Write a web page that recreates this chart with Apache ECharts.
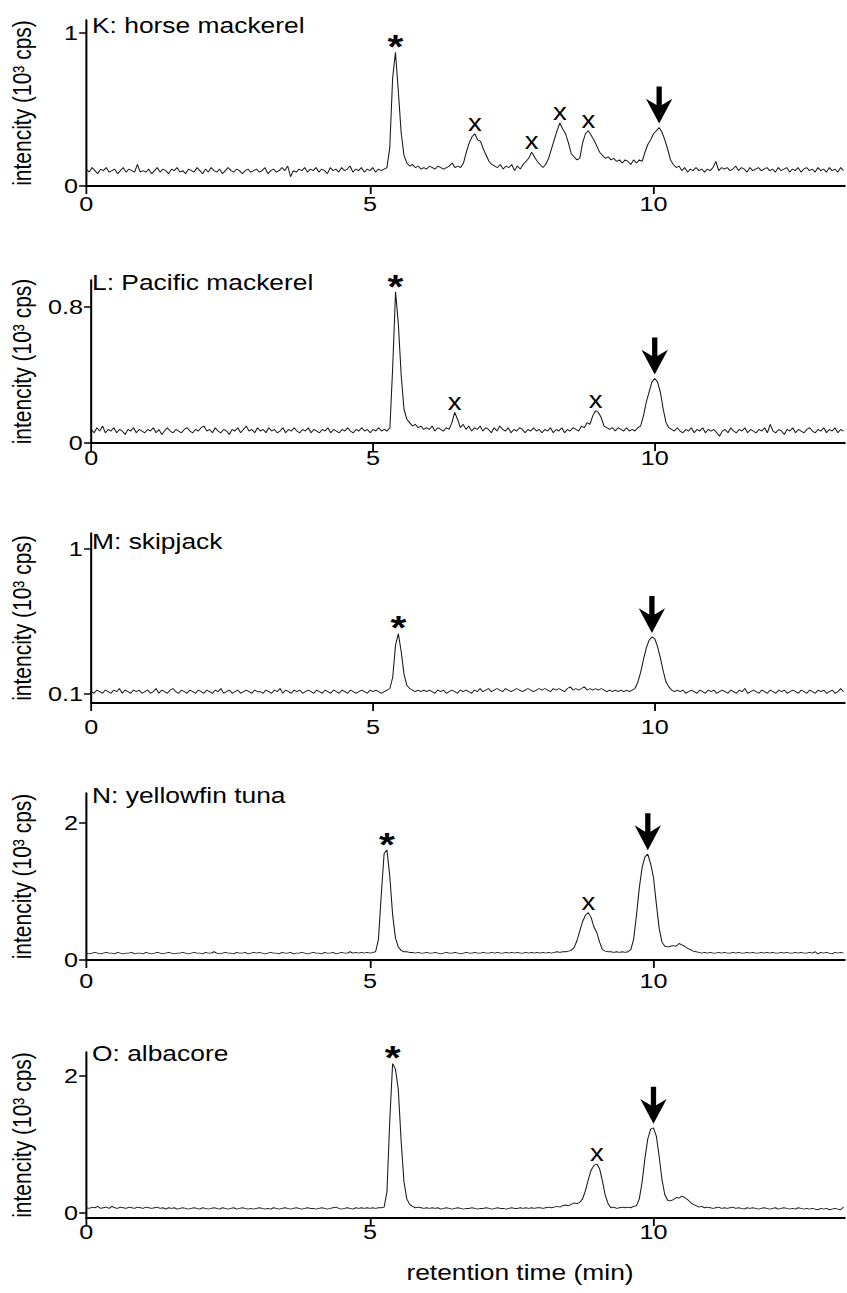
<!DOCTYPE html>
<html>
<head>
<meta charset="utf-8">
<script src="https://cdn.jsdelivr.net/npm/echarts@6/dist/echarts.min.js"></script>
<style>
html,body{margin:0;padding:0;background:#fff;width:847px;height:1293px;overflow:hidden}
#chart{width:706px;height:1293px;transform:scaleX(1.19972);transform-origin:0 0}
</style>
</head>
<body>
<div id="chart"></div>
<script>
// ---------------- DATA ----------------
const TIME_STEP = 0.05;           // min between samples (samples start at 0 min)
const xTicks = [0, 5, 10];
const xAxisName = 'retention time (min)';
const yAxisName = 'intencity (10³ cps)';

const titleK = 'K: horse mackerel';
const titleL = 'L: Pacific mackerel';
const titleM = 'M: skipjack';
const titleN = 'N: yellowfin tuna';
const titleO = 'O: albacore';

const yTicksK = [0, 1];
const yTicksL = [0, 0.8];
const yTicksM = [0.1, 1];
const yTicksN = [0, 2];
const yTicksO = [0, 2];

// intensity (10^3 cps), one row per minute (20 samples)
const valuesK = [
0.11,0.09,0.12,0.10,0.08,0.11,0.10,0.12,0.09,0.10,0.11,0.08,0.10,0.12,0.09,0.11,0.10,0.09,0.14,0.09,
0.10,0.09,0.11,0.08,0.10,0.12,0.09,0.11,0.10,0.08,0.11,0.10,0.12,0.09,0.10,0.08,0.11,0.10,0.09,0.12,
0.10,0.08,0.11,0.09,0.12,0.10,0.09,0.11,0.08,0.10,0.12,0.10,0.09,0.11,0.10,0.08,0.10,0.11,0.09,0.10,
0.11,0.09,0.10,0.12,0.08,0.10,0.11,0.09,0.10,0.12,0.10,0.13,0.06,0.10,0.09,0.11,0.10,0.12,0.09,0.11,
0.10,0.12,0.09,0.11,0.10,0.08,0.12,0.10,0.11,0.09,0.12,0.10,0.11,0.13,0.09,0.11,0.10,0.12,0.09,0.11,
0.10,0.12,0.09,0.11,0.10,0.11,0.12,0.25,0.70,0.87,0.62,0.35,0.20,0.15,0.13,0.14,0.12,0.13,0.11,0.12,
0.11,0.13,0.12,0.11,0.13,0.12,0.11,0.12,0.13,0.15,0.12,0.13,0.12,0.15,0.22,0.28,0.32,0.34,0.30,0.29,
0.24,0.20,0.16,0.14,0.13,0.12,0.14,0.11,0.13,0.12,0.14,0.10,0.13,0.11,0.14,0.16,0.18,0.22,0.19,0.16,
0.14,0.12,0.14,0.18,0.24,0.30,0.36,0.41,0.37,0.34,0.28,0.21,0.19,0.17,0.18,0.28,0.34,0.36,0.33,0.30,
0.26,0.22,0.20,0.18,0.19,0.17,0.18,0.16,0.17,0.15,0.17,0.16,0.14,0.17,0.15,0.17,0.16,0.22,0.27,0.30,
0.34,0.36,0.38,0.35,0.30,0.24,0.17,0.14,0.12,0.13,0.10,0.12,0.09,0.11,0.10,0.12,0.10,0.11,0.09,0.11,
0.10,0.12,0.16,0.10,0.12,0.11,0.12,0.10,0.11,0.13,0.10,0.12,0.11,0.09,0.12,0.10,0.11,0.12,0.10,0.11,
0.12,0.10,0.11,0.09,0.12,0.10,0.11,0.12,0.09,0.11,0.10,0.12,0.09,0.11,0.12,0.10,0.11,0.09,0.12,0.10,
0.11,0.09,0.12,0.10,0.11,0.09,0.12,0.10
];
const valuesL = [
0.08,0.06,0.09,0.07,0.10,0.06,0.08,0.07,0.09,0.06,0.08,0.07,0.05,0.08,0.07,0.09,0.06,0.08,0.07,0.06,
0.08,0.07,0.09,0.06,0.08,0.05,0.07,0.09,0.07,0.06,0.08,0.07,0.06,0.08,0.09,0.07,0.06,0.08,0.07,0.09,
0.10,0.07,0.08,0.06,0.09,0.07,0.06,0.08,0.07,0.05,0.08,0.07,0.09,0.06,0.08,0.10,0.07,0.08,0.06,0.09,
0.07,0.08,0.06,0.09,0.07,0.08,0.06,0.07,0.09,0.06,0.08,0.07,0.09,0.07,0.06,0.08,0.07,0.09,0.06,0.08,
0.07,0.06,0.08,0.07,0.09,0.06,0.08,0.07,0.06,0.08,0.07,0.09,0.07,0.06,0.08,0.07,0.09,0.07,0.08,0.06,
0.08,0.07,0.09,0.07,0.08,0.07,0.09,0.45,0.89,0.70,0.40,0.20,0.14,0.12,0.10,0.11,0.09,0.10,0.08,0.09,
0.08,0.10,0.07,0.09,0.08,0.07,0.09,0.08,0.12,0.18,0.14,0.09,0.11,0.08,0.10,0.07,0.09,0.08,0.10,0.07,
0.09,0.08,0.06,0.09,0.07,0.10,0.08,0.07,0.09,0.06,0.08,0.07,0.09,0.08,0.06,0.08,0.07,0.09,0.07,0.08,
0.06,0.08,0.07,0.09,0.06,0.08,0.07,0.09,0.06,0.08,0.07,0.09,0.08,0.07,0.10,0.09,0.12,0.11,0.16,0.19,
0.18,0.15,0.10,0.09,0.08,0.09,0.07,0.09,0.08,0.07,0.09,0.07,0.08,0.07,0.09,0.10,0.16,0.24,0.30,0.36,
0.38,0.36,0.30,0.20,0.12,0.09,0.08,0.07,0.09,0.07,0.06,0.08,0.07,0.09,0.06,0.08,0.07,0.09,0.06,0.08,
0.07,0.08,0.06,0.04,0.07,0.08,0.06,0.09,0.07,0.06,0.08,0.07,0.09,0.06,0.08,0.07,0.06,0.08,0.07,0.09,
0.06,0.11,0.07,0.06,0.08,0.07,0.05,0.08,0.07,0.09,0.06,0.08,0.07,0.06,0.08,0.09,0.07,0.06,0.08,0.07,
0.09,0.06,0.08,0.07,0.09,0.06,0.08,0.07
];
const valuesM = [
0.11,0.10,0.12,0.11,0.10,0.12,0.11,0.10,0.12,0.11,0.13,0.10,0.12,0.11,0.10,0.12,0.11,0.12,0.10,0.11,
0.12,0.10,0.11,0.13,0.10,0.12,0.11,0.10,0.12,0.13,0.11,0.10,0.12,0.11,0.10,0.12,0.11,0.10,0.12,0.11,
0.10,0.12,0.11,0.10,0.12,0.11,0.13,0.10,0.11,0.12,0.10,0.11,0.12,0.10,0.11,0.12,0.11,0.10,0.12,0.11,
0.11,0.10,0.12,0.11,0.10,0.12,0.11,0.13,0.10,0.12,0.11,0.10,0.12,0.11,0.12,0.10,0.11,0.12,0.11,0.10,
0.12,0.11,0.10,0.12,0.11,0.10,0.12,0.11,0.10,0.12,0.11,0.10,0.12,0.11,0.10,0.11,0.12,0.11,0.10,0.12,
0.11,0.12,0.11,0.10,0.11,0.12,0.13,0.20,0.40,0.47,0.36,0.22,0.15,0.13,0.12,0.11,0.12,0.11,0.12,0.11,
0.12,0.11,0.10,0.12,0.11,0.12,0.10,0.11,0.12,0.11,0.10,0.12,0.11,0.12,0.11,0.10,0.12,0.11,0.13,0.11,
0.12,0.13,0.11,0.12,0.13,0.12,0.11,0.13,0.12,0.11,0.12,0.13,0.12,0.11,0.12,0.13,0.12,0.11,0.12,0.13,
0.12,0.13,0.12,0.11,0.13,0.12,0.13,0.12,0.11,0.13,0.14,0.12,0.13,0.12,0.13,0.14,0.12,0.13,0.12,0.13,
0.12,0.13,0.12,0.11,0.12,0.11,0.12,0.11,0.12,0.11,0.12,0.11,0.12,0.13,0.17,0.23,0.31,0.38,0.43,0.45,
0.44,0.39,0.32,0.24,0.17,0.14,0.12,0.11,0.12,0.11,0.12,0.10,0.11,0.12,0.11,0.10,0.12,0.11,0.10,0.12,
0.11,0.12,0.10,0.11,0.12,0.11,0.10,0.12,0.11,0.10,0.12,0.11,0.13,0.10,0.11,0.12,0.11,0.10,0.12,0.11,
0.10,0.12,0.11,0.10,0.12,0.11,0.12,0.10,0.11,0.12,0.11,0.10,0.12,0.11,0.10,0.12,0.11,0.10,0.12,0.11,
0.12,0.10,0.11,0.12,0.10,0.11,0.13,0.11
];
const valuesN = [
0.10,0.09,0.10,0.11,0.10,0.09,0.10,0.11,0.10,0.10,0.09,0.11,0.10,0.09,0.10,0.10,0.11,0.09,0.10,0.10,
0.09,0.11,0.10,0.09,0.10,0.11,0.10,0.09,0.10,0.11,0.10,0.09,0.10,0.10,0.11,0.10,0.09,0.10,0.11,0.10,
0.10,0.09,0.11,0.10,0.10,0.12,0.10,0.09,0.10,0.11,0.10,0.10,0.09,0.11,0.10,0.10,0.11,0.09,0.10,0.11,
0.10,0.11,0.10,0.09,0.10,0.11,0.10,0.10,0.09,0.11,0.10,0.10,0.11,0.09,0.10,0.10,0.11,0.10,0.09,0.10,
0.11,0.10,0.10,0.09,0.11,0.10,0.10,0.11,0.09,0.10,0.11,0.10,0.10,0.12,0.10,0.11,0.10,0.11,0.10,0.11,
0.10,0.11,0.12,0.30,0.95,1.55,1.60,1.22,0.66,0.32,0.19,0.14,0.12,0.12,0.11,0.11,0.10,0.11,0.10,0.10,
0.11,0.10,0.10,0.11,0.10,0.09,0.10,0.11,0.10,0.10,0.11,0.10,0.09,0.10,0.11,0.10,0.10,0.11,0.10,0.10,
0.11,0.10,0.10,0.11,0.10,0.11,0.10,0.10,0.11,0.10,0.11,0.10,0.11,0.10,0.10,0.11,0.10,0.11,0.10,0.11,
0.10,0.11,0.10,0.11,0.10,0.11,0.12,0.11,0.12,0.12,0.13,0.14,0.18,0.28,0.42,0.56,0.65,0.69,0.62,0.48,
0.40,0.26,0.15,0.13,0.12,0.12,0.11,0.12,0.11,0.12,0.11,0.12,0.15,0.30,0.65,1.05,1.35,1.50,1.54,1.40,
1.20,0.82,0.46,0.26,0.20,0.19,0.20,0.21,0.20,0.24,0.22,0.20,0.17,0.15,0.13,0.12,0.11,0.10,0.11,0.10,
0.11,0.10,0.10,0.11,0.10,0.11,0.10,0.10,0.11,0.10,0.11,0.10,0.10,0.11,0.10,0.11,0.10,0.10,0.11,0.10,
0.11,0.10,0.11,0.10,0.10,0.11,0.10,0.11,0.10,0.10,0.11,0.10,0.11,0.10,0.10,0.11,0.10,0.12,0.09,0.11,
0.10,0.11,0.10,0.09,0.11,0.10,0.11,0.10
];
const valuesO = [
0.07,0.06,0.08,0.07,0.09,0.06,0.07,0.08,0.06,0.09,0.07,0.06,0.08,0.07,0.06,0.08,0.07,0.06,0.08,0.07,
0.06,0.08,0.07,0.06,0.07,0.08,0.06,0.07,0.05,0.07,0.06,0.07,0.05,0.06,0.07,0.06,0.05,0.06,0.07,0.06,
0.05,0.07,0.06,0.05,0.06,0.07,0.06,0.05,0.07,0.06,0.05,0.06,0.07,0.05,0.06,0.07,0.06,0.05,0.06,0.05,
0.06,0.07,0.06,0.05,0.06,0.05,0.07,0.06,0.05,0.06,0.07,0.06,0.05,0.06,0.07,0.06,0.05,0.06,0.07,0.06,
0.06,0.05,0.06,0.07,0.06,0.05,0.06,0.07,0.08,0.06,0.05,0.06,0.07,0.06,0.05,0.07,0.06,0.07,0.06,0.07,
0.06,0.07,0.06,0.07,0.07,0.08,0.30,1.35,2.18,2.10,1.80,1.05,0.45,0.20,0.12,0.09,0.07,0.08,0.07,0.06,
0.07,0.06,0.07,0.06,0.07,0.05,0.06,0.07,0.06,0.05,0.06,0.07,0.06,0.05,0.06,0.06,0.07,0.06,0.05,0.06,
0.06,0.07,0.06,0.05,0.06,0.07,0.06,0.06,0.05,0.06,0.07,0.06,0.06,0.07,0.06,0.07,0.06,0.07,0.06,0.07,
0.07,0.06,0.07,0.08,0.07,0.08,0.09,0.08,0.10,0.11,0.10,0.12,0.14,0.13,0.15,0.20,0.32,0.48,0.62,0.69,
0.71,0.64,0.46,0.25,0.13,0.07,0.08,0.06,0.07,0.08,0.07,0.08,0.07,0.09,0.10,0.20,0.45,0.80,1.08,1.22,
1.24,1.12,0.82,0.48,0.26,0.18,0.17,0.19,0.22,0.21,0.24,0.22,0.19,0.15,0.12,0.10,0.08,0.09,0.07,0.08,
0.07,0.06,0.07,0.08,0.06,0.07,0.06,0.07,0.08,0.06,0.07,0.06,0.05,0.07,0.06,0.07,0.06,0.05,0.06,0.07,
0.06,0.05,0.06,0.07,0.05,0.06,0.07,0.06,0.05,0.06,0.05,0.07,0.06,0.05,0.06,0.05,0.06,0.05,0.04,0.06,
0.05,0.06,0.04,0.05,0.06,0.05,0.04,0.08
];

// peak annotations (retention time, min)
const starTimesK = [5.45], crossTimesK = [6.85, 7.85, 8.35, 8.85], arrowTimesK = [10.10];
const starTimesL = [5.40], crossTimesL = [6.45, 8.95], arrowTimesL = [10.00];
const starTimesM = [5.45], crossTimesM = [], arrowTimesM = [9.95];
const starTimesN = [5.30], crossTimesN = [8.85], arrowTimesN = [9.90];
const starTimesO = [5.40], crossTimesO = [9.00], arrowTimesO = [10.00];

// ---------------- LAYOUT ----------------
const FONT = 'Arial, "Liberation Sans", Helvetica, sans-serif';
const SX = 847 / 706;
const GRID_LEFT = 70, GRID_WIDTH = 634, X_MAX = 13.37;
const layout = [
  {top: 20,   height: 166, yMin: 0,     yMax: 1.08,  xLabelMargin: 7,  titleY: 25.5},
  {top: 280,  height: 163, yMin: 0,     yMax: 0.96,  xLabelMargin: 4,  titleY: 282},
  {top: 533,  height: 170, yMin: 0.04,  yMax: 1.095, xLabelMargin: 13, titleY: 541.5},
  {top: 793,  height: 167, yMin: 0,     yMax: 2.43,  xLabelMargin: 10, titleY: 795},
  {top: 1052, height: 166, yMin: -0.08, yMax: 2.35,  xLabelMargin: 3,  titleY: 1053}
];
const panels = [
  {title: titleK, values: valuesK, yTicks: yTicksK, star: starTimesK, cross: crossTimesK, arrow: arrowTimesK},
  {title: titleL, values: valuesL, yTicks: yTicksL, star: starTimesL, cross: crossTimesL, arrow: arrowTimesL},
  {title: titleM, values: valuesM, yTicks: yTicksM, star: starTimesM, cross: crossTimesM, arrow: arrowTimesM},
  {title: titleN, values: valuesN, yTicks: yTicksN, star: starTimesN, cross: crossTimesN, arrow: arrowTimesN},
  {title: titleO, values: valuesO, yTicks: yTicksO, star: starTimesO, cross: crossTimesO, arrow: arrowTimesO}
];
const ARROW_PATH = 'path://M40,0 L60,0 L60,50 L100,33 L50,100 L0,33 L40,50 Z';

const valAt = (vals, t) => vals[Math.round(t / TIME_STEP)];
const toPairs = vals => vals.map((v, i) => [Number((i * TIME_STEP).toFixed(2)), v]);

const chart = echarts.init(document.getElementById('chart'), null, {renderer: 'svg'});

const option = {
  animation: false,
  backgroundColor: '#fff',
  grid: layout.map(l => ({left: GRID_LEFT, width: GRID_WIDTH, top: l.top, height: l.height})),
  xAxis: layout.map((l, i) => ({
    gridIndex: i, type: 'value', min: 0, max: X_MAX,
    axisLine: {show: true, onZero: false, lineStyle: {color: '#000', width: 2}},
    axisTick: {show: true, length: 8, customValues: xTicks, lineStyle: {color: '#000', width: 1.5}},
    axisLabel: {customValues: xTicks, margin: l.xLabelMargin, fontSize: 21, color: '#000', fontFamily: FONT},
    splitLine: {show: false}
  })),
  yAxis: layout.map((l, i) => ({
    gridIndex: i, type: 'value', min: l.yMin, max: l.yMax,
    axisLine: {show: true, onZero: false, lineStyle: {color: '#000', width: 1.7}},
    axisTick: {show: true, length: 6, customValues: panels[i].yTicks, lineStyle: {color: '#000', width: 1.5}},
    axisLabel: {customValues: panels[i].yTicks, margin: 7, fontSize: 21, color: '#000', fontFamily: FONT,
                formatter: v => String(v)},
    splitLine: {show: false},
    name: yAxisName, nameLocation: 'middle', nameGap: 43,
    nameTextStyle: {fontSize: 21, color: '#000', fontFamily: FONT}
  })),
  series: panels.map((p, i) => ({
    type: 'line', xAxisIndex: i, yAxisIndex: i,
    data: toPairs(p.values),
    showSymbol: false, silent: true,
    lineStyle: {color: '#1a1a1a', width: 0.9},
    markPoint: {
      silent: true,
      data: [
        ...p.star.map(t => ({
          coord: [t, valAt(p.values, t)], symbol: 'circle', symbolSize: 1,
          itemStyle: {color: 'rgba(0,0,0,0)'},
          label: {show: true, position: 'inside', formatter: '*', fontSize: 34, fontWeight: 'bold',
                  color: '#000', fontFamily: FONT, offset: [0, -6]}
        })),
        ...p.cross.map(t => ({
          coord: [t, valAt(p.values, t)], symbol: 'circle', symbolSize: 1,
          itemStyle: {color: 'rgba(0,0,0,0)'},
          label: {show: true, position: 'inside', formatter: 'x', fontSize: 23,
                  color: '#000', fontFamily: FONT, offset: [0, -11]}
        })),
        ...p.arrow.map(t => ({
          coord: [t, valAt(p.values, t)], symbol: ARROW_PATH, symbolSize: [22, 37],
          symbolOffset: [0, -22.5], itemStyle: {color: '#000'}, label: {show: false}
        }))
      ]
    }
  })),
  graphic: [
    ...panels.map((p, i) => ({
      type: 'text', x: 92 / SX, y: layout[i].titleY, silent: true,
      style: {text: p.title, fontSize: 22, fontFamily: FONT, fill: '#000', align: 'left', verticalAlign: 'middle'}
    })),
    {type: 'text', x: 520 / SX, y: 1272, silent: true,
     style: {text: xAxisName, fontSize: 22, fontFamily: FONT, fill: '#000', align: 'center', verticalAlign: 'middle'}}
  ]
};
chart.setOption(option);
</script>
</body>
</html>
